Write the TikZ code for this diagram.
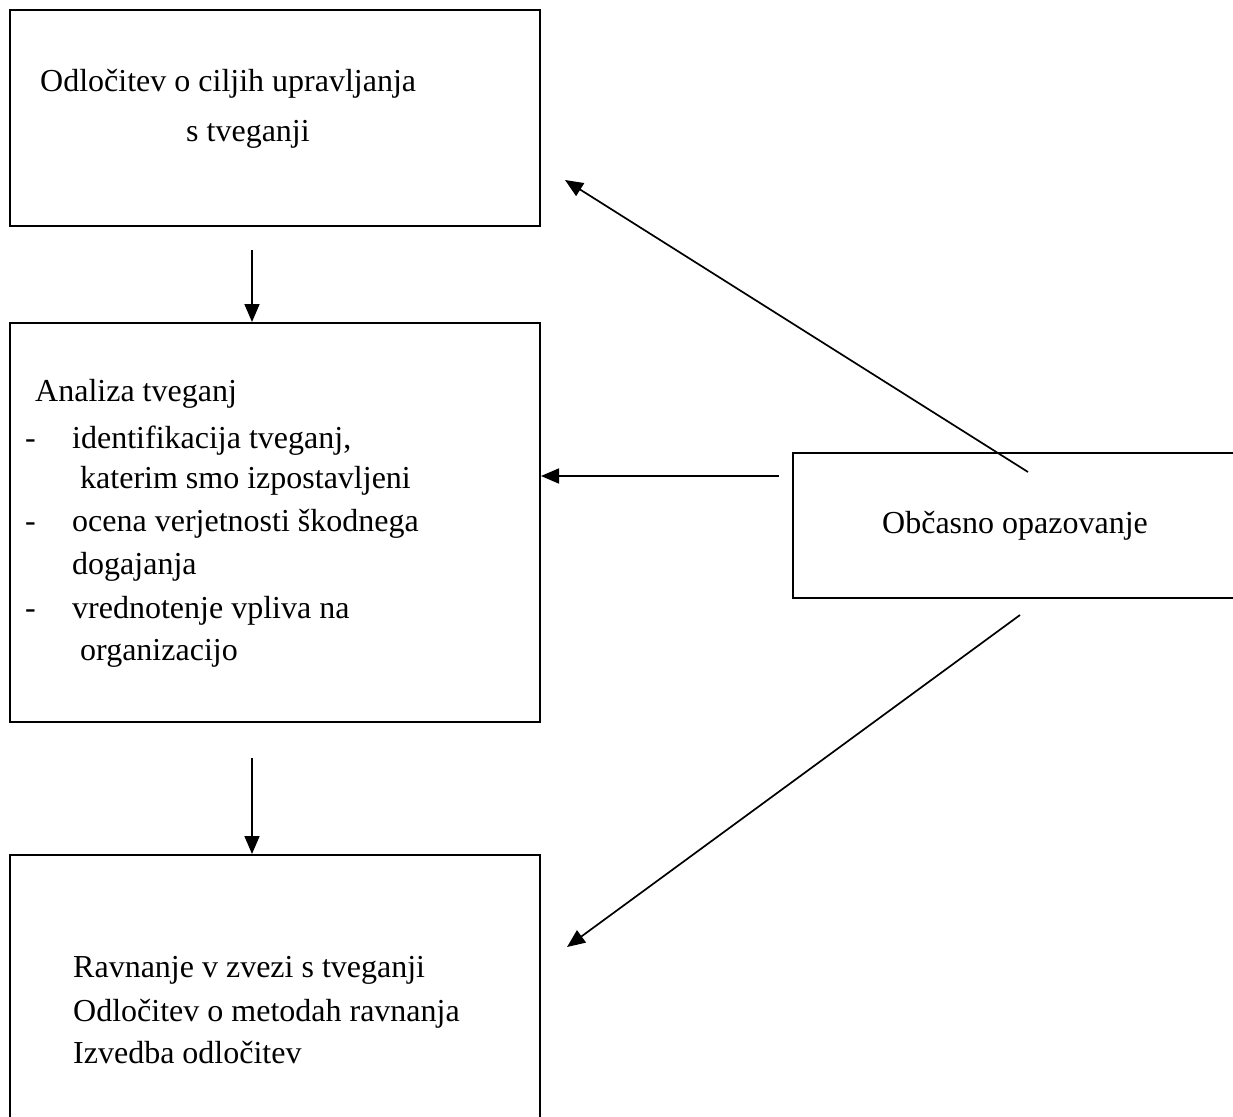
\documentclass[tikz,border=0pt]{standalone}
\usepackage{fontspec}
\setmainfont{Liberation Serif}
\usetikzlibrary{arrows.meta}
\begin{document}
\begin{tikzpicture}[x=1pt,y=-1pt,
  boxnode/.style={draw=black,line width=2pt,minimum width=#1,inner sep=0pt},
  txt/.style={anchor=base west,inner sep=0pt,font=\fontsize{32}{40}\selectfont},
  arr/.style={line width=1.7pt,-{Triangle[length=18pt,width=15pt]}}]
\useasboundingbox (0,0) rectangle (1233,1116);
\clip (0,0) rectangle (1233,1116);
\fill[white] (0,0) rectangle (1233,1116);
% boxes
\node[boxnode=530pt,minimum height=216pt] (b1) at (275,118) {};
\node[boxnode=530pt,minimum height=399pt] (b2) at (275,522.5) {};
\node[boxnode=530pt,minimum height=285pt] (b3) at (275,997.5) {};
\node[boxnode=470pt,minimum height=145pt] (b4) at (1028,525.5) {};
% texts
\node[txt] (t11) at (40,91) {Odločitev o ciljih upravljanja};
\node[txt] (t12) at (186,141) {s tveganji};
\node[txt] (t21) at (35,401) {Analiza tveganj};
\node[txt] (d1) at (25,448) {-};
\node[txt] (t22) at (72,448) {identifikacija tveganj,};
\node[txt] (t23) at (80,488) {katerim smo izpostavljeni};
\node[txt] (d2) at (25,531) {-};
\node[txt] (t24) at (72,531) {ocena verjetnosti škodnega};
\node[txt] (t25) at (72,574) {dogajanja};
\node[txt] (d3) at (25,618) {-};
\node[txt] (t26) at (72,618) {vrednotenje vpliva na};
\node[txt] (t27) at (80,660) {organizacijo};
\node[txt] (t31) at (73,977) {Ravnanje v zvezi s tveganji};
\node[txt] (t32) at (73,1021) {Odločitev o metodah ravnanja};
\node[txt] (t33) at (73,1063) {Izvedba odločitev};
\node[txt] (t41) at (882,533) {Občasno opazovanje};
% connectors
\coordinate (c1) at (252,250);
\coordinate (c2) at (252,758);
\coordinate (s1) at (1028,472);
\coordinate (e1) at (565,180);
\coordinate (s2) at (779,476);
\coordinate (s3) at (1020,615);
\coordinate (e3) at (567,947);
\draw[arr] (c1) -- (c1 |- b2.north);
\draw[arr] (c2) -- (c2 |- b3.north);
\draw[arr] (s1) -- (e1);
\draw[arr] (s2) -- (s2 -| b2.east);
\draw[arr] (s3) -- (e3);
\end{tikzpicture}
\end{document}
